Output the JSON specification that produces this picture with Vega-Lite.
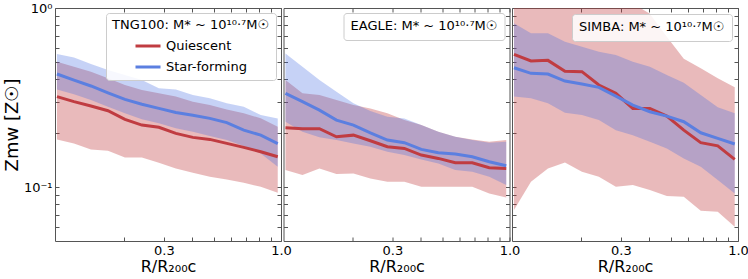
{
  "$schema": "https://vega.github.io/schema/vega-lite/v6.json",
  "padding": {"left": 2, "top": 1, "right": 0, "bottom": 0},
  "bounds": "flush",
  "config": {
    "font": "DejaVu Sans",
    "view": {"stroke": "#555", "strokeWidth": 1},
    "axis": {"grid": false, "domain": false, "tickColor": "#555", "labelColor": "#000", "titleColor": "#000", "titleFontWeight": "normal", "minExtent": 0},
    "legend": {"titleFontWeight": "normal", "titleColor": "#000", "labelColor": "#000"}
  },
  "data": {"values": [
    {"sim":"TNG100","grp":"Quiescent","x":0.1,"y":0.320,"lo":0.1846,"hi":0.501},
    {"sim":"TNG100","grp":"Quiescent","x":0.1191,"y":0.300,"lo":0.1754,"hi":0.470},
    {"sim":"TNG100","grp":"Quiescent","x":0.1418,"y":0.2835,"lo":0.1624,"hi":0.441},
    {"sim":"TNG100","grp":"Quiescent","x":0.1689,"y":0.267,"lo":0.1596,"hi":0.405},
    {"sim":"TNG100","grp":"Quiescent","x":0.2011,"y":0.239,"lo":0.1465,"hi":0.371},
    {"sim":"TNG100","grp":"Quiescent","x":0.2393,"y":0.222,"lo":0.1465,"hi":0.348},
    {"sim":"TNG100","grp":"Quiescent","x":0.285,"y":0.2156,"lo":0.1367,"hi":0.334},
    {"sim":"TNG100","grp":"Quiescent","x":0.3393,"y":0.1995,"lo":0.1272,"hi":0.320},
    {"sim":"TNG100","grp":"Quiescent","x":0.4041,"y":0.1895,"lo":0.1202,"hi":0.300},
    {"sim":"TNG100","grp":"Quiescent","x":0.4811,"y":0.1846,"lo":0.1142,"hi":0.287},
    {"sim":"TNG100","grp":"Quiescent","x":0.5728,"y":0.1754,"lo":0.1104,"hi":0.2716},
    {"sim":"TNG100","grp":"Quiescent","x":0.682,"y":0.1666,"lo":0.1057,"hi":0.258},
    {"sim":"TNG100","grp":"Quiescent","x":0.8121,"y":0.1574,"lo":0.1004,"hi":0.242},
    {"sim":"TNG100","grp":"Quiescent","x":0.967,"y":0.1476,"lo":0.0930,"hi":0.217},
    {"sim":"TNG100","grp":"Star-forming","x":0.1,"y":0.428,"lo":0.351,"hi":0.553},
    {"sim":"TNG100","grp":"Star-forming","x":0.1191,"y":0.396,"lo":0.330,"hi":0.530},
    {"sim":"TNG100","grp":"Star-forming","x":0.1418,"y":0.367,"lo":0.306,"hi":0.4866},
    {"sim":"TNG100","grp":"Star-forming","x":0.1689,"y":0.336,"lo":0.281,"hi":0.450},
    {"sim":"TNG100","grp":"Star-forming","x":0.2011,"y":0.309,"lo":0.258,"hi":0.422},
    {"sim":"TNG100","grp":"Star-forming","x":0.2393,"y":0.290,"lo":0.239,"hi":0.396},
    {"sim":"TNG100","grp":"Star-forming","x":0.285,"y":0.275,"lo":0.227,"hi":0.356},
    {"sim":"TNG100","grp":"Star-forming","x":0.3393,"y":0.261,"lo":0.213,"hi":0.351},
    {"sim":"TNG100","grp":"Star-forming","x":0.4041,"y":0.252,"lo":0.204,"hi":0.3266},
    {"sim":"TNG100","grp":"Star-forming","x":0.4811,"y":0.242,"lo":0.193,"hi":0.313},
    {"sim":"TNG100","grp":"Star-forming","x":0.5728,"y":0.229,"lo":0.183,"hi":0.2934},
    {"sim":"TNG100","grp":"Star-forming","x":0.682,"y":0.208,"lo":0.1694,"hi":0.281},
    {"sim":"TNG100","grp":"Star-forming","x":0.8121,"y":0.195,"lo":0.154,"hi":0.2525},
    {"sim":"TNG100","grp":"Star-forming","x":0.967,"y":0.175,"lo":0.1298,"hi":0.2418},
    {"sim":"EAGLE","grp":"Quiescent","x":0.1,"y":0.2146,"lo":0.1245,"hi":0.396},
    {"sim":"EAGLE","grp":"Quiescent","x":0.1191,"y":0.2118,"lo":0.1167,"hi":0.334},
    {"sim":"EAGLE","grp":"Quiescent","x":0.1418,"y":0.2118,"lo":0.1272,"hi":0.3266},
    {"sim":"EAGLE","grp":"Quiescent","x":0.1689,"y":0.191,"lo":0.1182,"hi":0.306},
    {"sim":"EAGLE","grp":"Quiescent","x":0.2011,"y":0.195,"lo":0.1192,"hi":0.287},
    {"sim":"EAGLE","grp":"Quiescent","x":0.2393,"y":0.1815,"lo":0.1118,"hi":0.275},
    {"sim":"EAGLE","grp":"Quiescent","x":0.285,"y":0.168,"lo":0.1071,"hi":0.258},
    {"sim":"EAGLE","grp":"Quiescent","x":0.3393,"y":0.1644,"lo":0.1071,"hi":0.2367},
    {"sim":"EAGLE","grp":"Quiescent","x":0.4041,"y":0.151,"lo":0.1004,"hi":0.222},
    {"sim":"EAGLE","grp":"Quiescent","x":0.4811,"y":0.1446,"lo":0.1004,"hi":0.2037},
    {"sim":"EAGLE","grp":"Quiescent","x":0.5728,"y":0.1367,"lo":0.1004,"hi":0.191},
    {"sim":"EAGLE","grp":"Quiescent","x":0.682,"y":0.1367,"lo":0.1004,"hi":0.1846},
    {"sim":"EAGLE","grp":"Quiescent","x":0.8121,"y":0.1282,"lo":0.0922,"hi":0.179},
    {"sim":"EAGLE","grp":"Quiescent","x":0.967,"y":0.1272,"lo":0.0876,"hi":0.183},
    {"sim":"EAGLE","grp":"Star-forming","x":0.1,"y":0.334,"lo":0.2317,"hi":0.558},
    {"sim":"EAGLE","grp":"Star-forming","x":0.1191,"y":0.300,"lo":0.2037,"hi":0.470},
    {"sim":"EAGLE","grp":"Star-forming","x":0.1418,"y":0.269,"lo":0.1895,"hi":0.396},
    {"sim":"EAGLE","grp":"Star-forming","x":0.1689,"y":0.2367,"lo":0.183,"hi":0.341},
    {"sim":"EAGLE","grp":"Star-forming","x":0.2011,"y":0.222,"lo":0.1754,"hi":0.2934},
    {"sim":"EAGLE","grp":"Star-forming","x":0.2393,"y":0.201,"lo":0.168,"hi":0.266},
    {"sim":"EAGLE","grp":"Star-forming","x":0.285,"y":0.183,"lo":0.1575,"hi":0.247},
    {"sim":"EAGLE","grp":"Star-forming","x":0.3393,"y":0.177,"lo":0.151,"hi":0.2418},
    {"sim":"EAGLE","grp":"Star-forming","x":0.4041,"y":0.1623,"lo":0.1428,"hi":0.222},
    {"sim":"EAGLE","grp":"Star-forming","x":0.4811,"y":0.1556,"lo":0.1356,"hi":0.2037},
    {"sim":"EAGLE","grp":"Star-forming","x":0.5728,"y":0.1529,"lo":0.1245,"hi":0.191},
    {"sim":"EAGLE","grp":"Star-forming","x":0.682,"y":0.1478,"lo":0.1218,"hi":0.183},
    {"sim":"EAGLE","grp":"Star-forming","x":0.8121,"y":0.1385,"lo":0.1142,"hi":0.177},
    {"sim":"EAGLE","grp":"Star-forming","x":0.967,"y":0.1316,"lo":0.1026,"hi":0.179},
    {"sim":"SIMBA","grp":"Quiescent","x":0.1,"y":0.551,"lo":0.0744,"hi":1.6},
    {"sim":"SIMBA","grp":"Quiescent","x":0.1191,"y":0.506,"lo":0.1071,"hi":1.55},
    {"sim":"SIMBA","grp":"Quiescent","x":0.1418,"y":0.510,"lo":0.1272,"hi":1.5},
    {"sim":"SIMBA","grp":"Quiescent","x":0.1689,"y":0.443,"lo":0.1374,"hi":1.45},
    {"sim":"SIMBA","grp":"Quiescent","x":0.2011,"y":0.441,"lo":0.1218,"hi":1.35},
    {"sim":"SIMBA","grp":"Quiescent","x":0.2393,"y":0.3715,"lo":0.1142,"hi":1.25},
    {"sim":"SIMBA","grp":"Quiescent","x":0.285,"y":0.334,"lo":0.1004,"hi":1.15},
    {"sim":"SIMBA","grp":"Quiescent","x":0.3393,"y":0.275,"lo":0.1026,"hi":1.06},
    {"sim":"SIMBA","grp":"Quiescent","x":0.4041,"y":0.275,"lo":0.0962,"hi":0.93},
    {"sim":"SIMBA","grp":"Quiescent","x":0.4811,"y":0.249,"lo":0.0891,"hi":0.691},
    {"sim":"SIMBA","grp":"Quiescent","x":0.5728,"y":0.208,"lo":0.0883,"hi":0.52},
    {"sim":"SIMBA","grp":"Quiescent","x":0.682,"y":0.177,"lo":0.0738,"hi":0.461},
    {"sim":"SIMBA","grp":"Quiescent","x":0.8121,"y":0.170,"lo":0.0728,"hi":0.405},
    {"sim":"SIMBA","grp":"Quiescent","x":0.967,"y":0.1428,"lo":0.060,"hi":0.3605},
    {"sim":"SIMBA","grp":"Star-forming","x":0.1,"y":0.464,"lo":0.320,"hi":0.821},
    {"sim":"SIMBA","grp":"Star-forming","x":0.1191,"y":0.4316,"lo":0.313,"hi":0.722},
    {"sim":"SIMBA","grp":"Star-forming","x":0.1418,"y":0.428,"lo":0.2934,"hi":0.722},
    {"sim":"SIMBA","grp":"Star-forming","x":0.1689,"y":0.391,"lo":0.260,"hi":0.648},
    {"sim":"SIMBA","grp":"Star-forming","x":0.2011,"y":0.376,"lo":0.2525,"hi":0.608},
    {"sim":"SIMBA","grp":"Star-forming","x":0.2393,"y":0.3605,"lo":0.2367,"hi":0.570},
    {"sim":"SIMBA","grp":"Star-forming","x":0.285,"y":0.322,"lo":0.208,"hi":0.546},
    {"sim":"SIMBA","grp":"Star-forming","x":0.3393,"y":0.287,"lo":0.195,"hi":0.501},
    {"sim":"SIMBA","grp":"Star-forming","x":0.4041,"y":0.2636,"lo":0.179,"hi":0.470},
    {"sim":"SIMBA","grp":"Star-forming","x":0.4811,"y":0.249,"lo":0.1644,"hi":0.422},
    {"sim":"SIMBA","grp":"Star-forming","x":0.5728,"y":0.2317,"lo":0.1446,"hi":0.383},
    {"sim":"SIMBA","grp":"Star-forming","x":0.682,"y":0.201,"lo":0.130,"hi":0.3266},
    {"sim":"SIMBA","grp":"Star-forming","x":0.8121,"y":0.187,"lo":0.1094,"hi":0.279},
    {"sim":"SIMBA","grp":"Star-forming","x":0.967,"y":0.174,"lo":0.0922,"hi":0.258}
  ]},
  "spacing": 2.5,
  "resolve": {"scale": {"color": "independent"}, "legend": {"color": "independent"}},
  "hconcat": [
    {
      "width": 226, "height": 233,
      "transform": [{"filter": "datum.sim == 'TNG100'"}],
      "layer": [
        {"transform": [{"filter": "datum.grp == 'Quiescent'"}],
         "mark": {"type": "area", "clip": true, "color": "#c0393b", "opacity": 0.35},
         "encoding": {
           "x": {"field": "x", "type": "quantitative", "scale": {"type": "log", "domain": [0.098, 1.0]}, "axis": null},
           "y": {"field": "lo", "type": "quantitative", "scale": {"type": "log", "domain": [0.05, 1.0]}, "axis": null},
           "y2": {"field": "hi"}}},
        {"transform": [{"filter": "datum.grp == 'Star-forming'"}],
         "mark": {"type": "area", "clip": true, "color": "#4169e1", "opacity": 0.3},
         "encoding": {
           "x": {"field": "x", "type": "quantitative", "scale": {"type": "log", "domain": [0.098, 1.0]}, "axis": null},
           "y": {"field": "lo", "type": "quantitative", "scale": {"type": "log", "domain": [0.05, 1.0]}, "axis": null},
           "y2": {"field": "hi"}}},
        {"mark": {"type": "line", "clip": true, "strokeWidth": 3},
         "encoding": {
           "x": {"field": "x", "type": "quantitative", "scale": {"type": "log", "domain": [0.098, 1.0]}, "axis": {"orient": "bottom", "values": [0.2,0.3,0.4,0.5,0.6,0.7,0.8,0.9,1], "labelExpr": "datum.value == 0.3 ? '0.3' : datum.value == 1 ? '1.0' : ''", "tickSize": -4, "labelPadding": 7, "labelFontSize": 13, "labelFlush": false, "labelOverlap": false, "title": "R/R₂₀₀c", "titleFontSize": 16, "titlePadding": 1}},
           "y": {"field": "y", "type": "quantitative", "scale": {"type": "log", "domain": [0.05, 1.0]}, "axis": {"orient": "left", "values": [0.06,0.07,0.08,0.09,0.1,0.2,0.3,0.4,0.5,0.6,0.7,0.8,0.9,1], "labelExpr": "datum.value == 1 ? '10⁰' : datum.value == 0.1 ? '10⁻¹' : ''", "tickSize": -4, "labelPadding": 7, "labelFontSize": 13, "labelFlush": false, "labelOverlap": false, "title": "Zmw [Z☉]", "titleFontSize": 18, "titlePadding": 2}},
           "color": {"field": "grp", "type": "nominal", "scale": {"domain": ["Quiescent", "Star-forming"], "range": ["#c03c41", "#5b7fe0"]},
             "legend": {"title": "TNG100: M* ~ 10¹⁰·⁷M☉", "orient": "top-right", "offset": 5, "fillColor": "rgba(255,255,255,0.85)", "strokeColor": "#cccccc", "cornerRadius": 3, "padding": 6, "symbolType": "stroke", "symbolStrokeWidth": 3, "symbolSize": 625, "symbolOffset": 22, "labelFontSize": 13, "titleFontSize": 13, "rowPadding": -8, "titlePadding": 0}}}},
        {"mark": {"type": "line", "opacity": 0},
         "encoding": {
           "x": {"field": "x", "type": "quantitative", "scale": {"type": "log", "domain": [0.098, 1.0]}, "axis": {"orient": "top", "values": [0.2,0.3,0.4,0.5,0.6,0.7,0.8,0.9,1], "labels": false, "tickSize": -4, "title": null, "maxExtent": 0}},
           "y": {"field": "y", "type": "quantitative", "scale": {"type": "log", "domain": [0.05, 1.0]}, "axis": {"orient": "right", "values": [0.06,0.07,0.08,0.09,0.1,0.2,0.3,0.4,0.5,0.6,0.7,0.8,0.9,1], "labels": false, "tickSize": -4, "title": null, "maxExtent": 0}}}}
      ],
      "resolve": {"axis": {"x": "independent", "y": "independent"}}
    },
    {
      "width": 226, "height": 233,
      "transform": [{"filter": "datum.sim == 'EAGLE'"}],
      "layer": [
        {"transform": [{"filter": "datum.grp == 'Quiescent'"}],
         "mark": {"type": "area", "clip": true, "color": "#c0393b", "opacity": 0.35},
         "encoding": {
           "x": {"field": "x", "type": "quantitative", "scale": {"type": "log", "domain": [0.098, 1.0]}, "axis": null},
           "y": {"field": "lo", "type": "quantitative", "scale": {"type": "log", "domain": [0.05, 1.0]}, "axis": null},
           "y2": {"field": "hi"}}},
        {"transform": [{"filter": "datum.grp == 'Star-forming'"}],
         "mark": {"type": "area", "clip": true, "color": "#4169e1", "opacity": 0.3},
         "encoding": {
           "x": {"field": "x", "type": "quantitative", "scale": {"type": "log", "domain": [0.098, 1.0]}, "axis": null},
           "y": {"field": "lo", "type": "quantitative", "scale": {"type": "log", "domain": [0.05, 1.0]}, "axis": null},
           "y2": {"field": "hi"}}},
        {"mark": {"type": "line", "clip": true, "strokeWidth": 3},
         "encoding": {
           "x": {"field": "x", "type": "quantitative", "scale": {"type": "log", "domain": [0.098, 1.0]}, "axis": {"orient": "bottom", "values": [0.2,0.3,0.4,0.5,0.6,0.7,0.8,0.9,1], "labelExpr": "datum.value == 0.3 ? '0.3' : datum.value == 1 ? '1.0' : ''", "tickSize": -4, "labelPadding": 7, "labelFontSize": 13, "labelFlush": false, "labelOverlap": false, "title": "R/R₂₀₀c", "titleFontSize": 16, "titlePadding": 1}},
           "y": {"field": "y", "type": "quantitative", "scale": {"type": "log", "domain": [0.05, 1.0]}, "axis": {"orient": "left", "values": [0.06,0.07,0.08,0.09,0.1,0.2,0.3,0.4,0.5,0.6,0.7,0.8,0.9,1], "labels": false, "tickSize": -4, "title": null, "maxExtent": 0}},
           "color": {"field": "grp", "type": "nominal", "scale": {"domain": ["Quiescent", "Star-forming"], "range": ["#c03c41", "#5b7fe0"]},
             "legend": {"title": "EAGLE: M* ~ 10¹⁰·⁷M☉", "values": [], "orient": "top-right", "offset": 5, "fillColor": "rgba(255,255,255,0.85)", "strokeColor": "#cccccc", "cornerRadius": 3, "padding": 7, "titleFontSize": 13, "titlePadding": 0}}}},
        {"mark": {"type": "line", "opacity": 0},
         "encoding": {
           "x": {"field": "x", "type": "quantitative", "scale": {"type": "log", "domain": [0.098, 1.0]}, "axis": {"orient": "top", "values": [0.2,0.3,0.4,0.5,0.6,0.7,0.8,0.9,1], "labels": false, "tickSize": -4, "title": null, "maxExtent": 0}},
           "y": {"field": "y", "type": "quantitative", "scale": {"type": "log", "domain": [0.05, 1.0]}, "axis": {"orient": "right", "values": [0.06,0.07,0.08,0.09,0.1,0.2,0.3,0.4,0.5,0.6,0.7,0.8,0.9,1], "labels": false, "tickSize": -4, "title": null, "maxExtent": 0}}}}
      ],
      "resolve": {"axis": {"x": "independent", "y": "independent"}}
    },
    {
      "width": 226, "height": 233,
      "transform": [{"filter": "datum.sim == 'SIMBA'"}],
      "layer": [
        {"transform": [{"filter": "datum.grp == 'Quiescent'"}],
         "mark": {"type": "area", "clip": true, "color": "#c0393b", "opacity": 0.35},
         "encoding": {
           "x": {"field": "x", "type": "quantitative", "scale": {"type": "log", "domain": [0.098, 1.0]}, "axis": null},
           "y": {"field": "lo", "type": "quantitative", "scale": {"type": "log", "domain": [0.05, 1.0]}, "axis": null},
           "y2": {"field": "hi"}}},
        {"transform": [{"filter": "datum.grp == 'Star-forming'"}],
         "mark": {"type": "area", "clip": true, "color": "#4169e1", "opacity": 0.3},
         "encoding": {
           "x": {"field": "x", "type": "quantitative", "scale": {"type": "log", "domain": [0.098, 1.0]}, "axis": null},
           "y": {"field": "lo", "type": "quantitative", "scale": {"type": "log", "domain": [0.05, 1.0]}, "axis": null},
           "y2": {"field": "hi"}}},
        {"mark": {"type": "line", "clip": true, "strokeWidth": 3},
         "encoding": {
           "x": {"field": "x", "type": "quantitative", "scale": {"type": "log", "domain": [0.098, 1.0]}, "axis": {"orient": "bottom", "values": [0.2,0.3,0.4,0.5,0.6,0.7,0.8,0.9,1], "labelExpr": "datum.value == 0.3 ? '0.3' : datum.value == 1 ? '1.0' : ''", "tickSize": -4, "labelPadding": 7, "labelFontSize": 13, "labelFlush": false, "labelOverlap": false, "title": "R/R₂₀₀c", "titleFontSize": 16, "titlePadding": 1}},
           "y": {"field": "y", "type": "quantitative", "scale": {"type": "log", "domain": [0.05, 1.0]}, "axis": {"orient": "left", "values": [0.06,0.07,0.08,0.09,0.1,0.2,0.3,0.4,0.5,0.6,0.7,0.8,0.9,1], "labels": false, "tickSize": -4, "title": null, "maxExtent": 0}},
           "color": {"field": "grp", "type": "nominal", "scale": {"domain": ["Quiescent", "Star-forming"], "range": ["#c03c41", "#5b7fe0"]},
             "legend": {"title": "SIMBA: M* ~ 10¹⁰·⁷M☉", "values": [], "orient": "top-right", "offset": 6, "fillColor": "rgba(255,255,255,0.85)", "strokeColor": "#cccccc", "cornerRadius": 3, "padding": 7, "titleFontSize": 13, "titlePadding": 0}}}},
        {"mark": {"type": "line", "opacity": 0},
         "encoding": {
           "x": {"field": "x", "type": "quantitative", "scale": {"type": "log", "domain": [0.098, 1.0]}, "axis": {"orient": "top", "values": [0.2,0.3,0.4,0.5,0.6,0.7,0.8,0.9,1], "labels": false, "tickSize": -4, "title": null, "maxExtent": 0}},
           "y": {"field": "y", "type": "quantitative", "scale": {"type": "log", "domain": [0.05, 1.0]}, "axis": {"orient": "right", "values": [0.06,0.07,0.08,0.09,0.1,0.2,0.3,0.4,0.5,0.6,0.7,0.8,0.9,1], "labels": false, "tickSize": -4, "title": null, "maxExtent": 0}}}}
      ],
      "resolve": {"axis": {"x": "independent", "y": "independent"}}
    }
  ]
}
